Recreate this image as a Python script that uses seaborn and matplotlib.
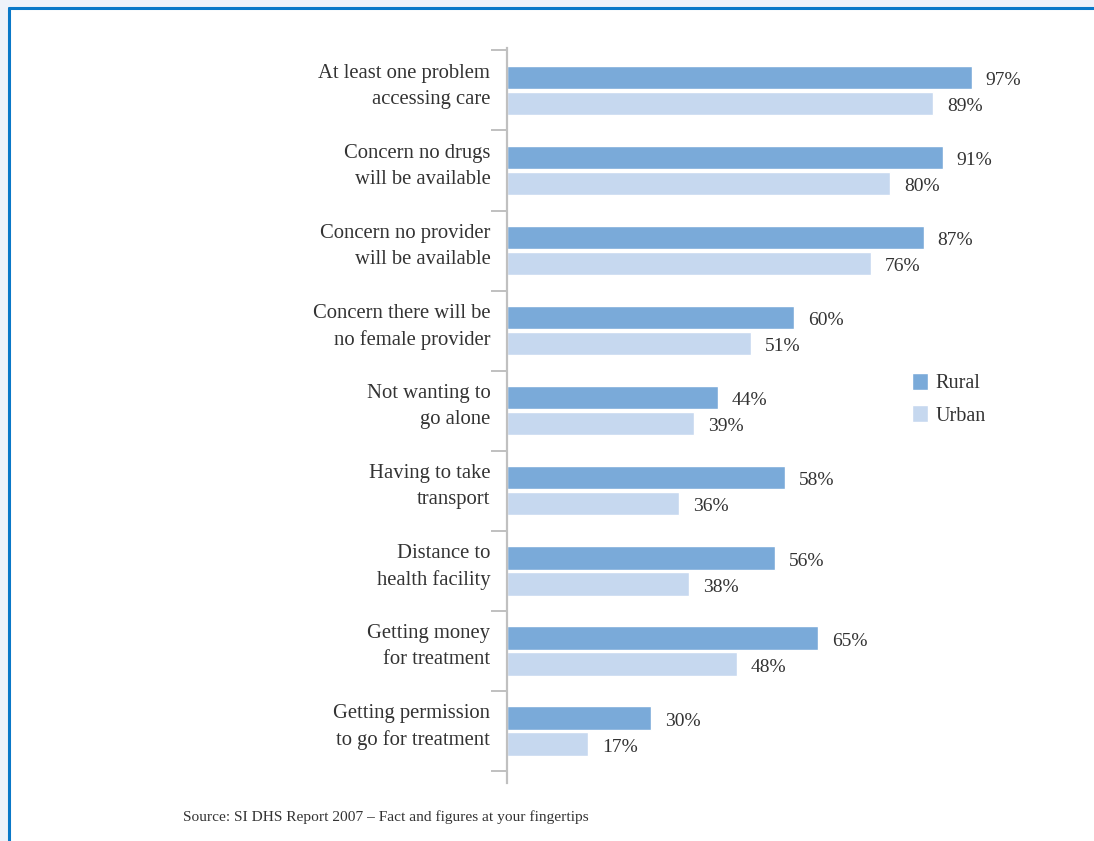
import matplotlib
matplotlib.use("Agg")
import matplotlib.pyplot as plt
from matplotlib.patches import Rectangle
from matplotlib.ticker import FixedLocator
from matplotlib.transforms import ScaledTranslation
import seaborn as sns
import pandas as pd
import numpy as np

categories = [
    "At least one problem\naccessing care",
    "Concern no drugs\nwill be available",
    "Concern no provider\nwill be available",
    "Concern there will be\nno female provider",
    "Not wanting to\ngo alone",
    "Having to take\ntransport",
    "Distance to\nhealth facility",
    "Getting money\nfor treatment",
    "Getting permission\nto go for treatment",
]
rural = [97, 91, 87, 60, 44, 58, 56, 65, 30]
urban = [89, 80, 76, 51, 39, 36, 38, 48, 17]
series = ["Rural", "Urban"]
palette = {"Rural": "#7aaad9", "Urban": "#c6d8ef"}
source_note = "Source: SI DHS Report 2007 \u2013 Fact and figures at your fingertips"

df = pd.DataFrame({
    "category": categories * 2,
    "group": ["Rural"] * len(categories) + ["Urban"] * len(categories),
    "value": rural + urban,
})

sns.set_theme(style="white")
plt.rcParams["font.family"] = ["Liberation Serif", "DejaVu Serif"]
text_color = "#333333"

W, H = 1094, 841
fig = plt.figure(figsize=(W / 100, H / 100), dpi=100)
fig.patch.set_facecolor("#eef2fa")

# page panel with blue frame
fig.add_artist(Rectangle((9 / W, -0.01), 1.1, 1 - 8 / H + 0.01, transform=fig.transFigure,
                         facecolor="white", edgecolor="none", zorder=0))
fig.add_artist(plt.Line2D([9 / W, 1.0], [1 - 8 / H] * 2, transform=fig.transFigure,
                          color="#0a78c8", lw=2.2, zorder=1))
fig.add_artist(plt.Line2D([9 / W] * 2, [0.0, 1 - 8 / H], transform=fig.transFigure,
                          color="#0a78c8", lw=2.2, zorder=1))

left, right = 507 / W, 986 / W
top, bottom = 1 - 48 / H, 1 - 783 / H
ax = fig.add_axes([left, bottom, right - left, top - bottom])
ax.set_facecolor("none")

sns.barplot(data=df, y="category", x="value", hue="group", hue_order=series,
            palette=palette, orient="h", width=0.65, gap=0.1, saturation=1,
            ax=ax, legend=True)

ax.set_xlim(0, 100)
ax.set_ylim(8.65, -0.53)
ax.set_xlabel("")
ax.set_ylabel("")
ax.xaxis.set_visible(False)
for s in ["top", "right", "bottom"]:
    ax.spines[s].set_visible(False)
ax.spines["left"].set_color("#c0c0c0")
ax.spines["left"].set_linewidth(1.6)

ax.yaxis.set_minor_locator(FixedLocator(np.arange(-0.5, len(categories), 1.0)))
ax.tick_params(axis="y", which="major", length=0, pad=12, labelsize=14.9, labelcolor=text_color)
ax.tick_params(axis="y", which="minor", length=11.5, width=1.4, color="#c0c0c0", left=True)
lift = ScaledTranslation(0, 10 / 100, fig.dpi_scale_trans)
for t in ax.get_yticklabels():
    t.set_linespacing(1.5)
    t.set_transform(t.get_transform() + lift)

for cont in ax.containers:
    labels = ax.bar_label(cont, labels=[f"{v:.0f}%" for v in cont.datavalues], padding=10,
                          fontsize=14, color=text_color)
    for lb in labels:
        lb.xyann = (10, -2.3)

leg = ax.legend(loc="upper left", bbox_to_anchor=(904 / W, 1 - 365 / H),
                bbox_transform=fig.transFigure, frameon=False, fontsize=14.5,
                handlelength=0.8, handleheight=0.9, handletextpad=0.35,
                labelspacing=0.6, borderaxespad=0)
for t in leg.get_texts():
    t.set_color(text_color)

fig.text(183 / W, 1 - 817 / H, source_note, fontsize=11.1, color=text_color,
         ha="left", va="center")

fig.savefig("out.png", dpi=100, facecolor=fig.get_facecolor())
